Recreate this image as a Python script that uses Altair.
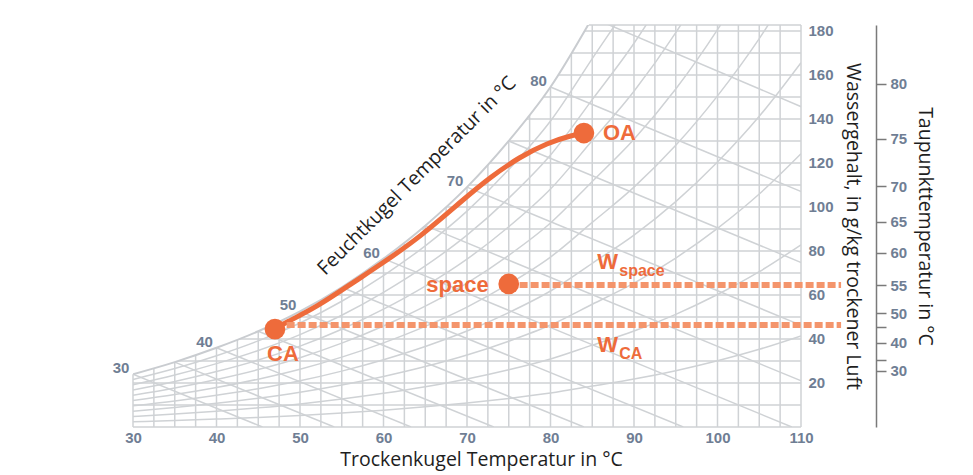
import altair as alt
import pandas as pd

# ---------------- data ----------------
# saturation humidity (grains per lb dry air) along the saturation curve
sat_T = [30, 35, 40, 45, 50, 55, 60, 65, 70, 75, 80, 85, 90, 95, 100, 105, 110]
sat_W = [24, 29.5, 36, 43.5, 52.5, 63.5, 76.5, 91.5, 109, 130, 154.5, 186, 218, 256, 301, 353, 414]

# relative humidity curves
rh_levels = [0.1, 0.2, 0.3, 0.4, 0.5, 0.6, 0.7, 0.8, 0.9]

# wet-bulb lines: start on saturation at wb_T, end at W = 0 at wb_end_T
wb_T = [30, 35, 40, 45, 50, 55, 60, 65, 70, 75, 80, 85]
wb_end_T = [45.5, 54.1, 63.3, 73.2, 84.0, 95.9, 108.9, 123.4, 139.5, 157.4, 177.6, 200.1]
wb_label_T = [30, 40, 50, 60, 70, 80]

# chart grid (tick positions)
grid_T = [32.5 + 2.5 * i for i in range(32)]          # interior verticals up to 110
grid_W = [0, 10, 20, 30, 40, 50, 60, 70, 80, 90, 100, 110, 120, 130, 140, 150, 160, 170, 180]
W_TOP = 182.7
T_TOP_START = 84.6      # where the saturation curve meets the top edge
W_LEFT_TOP = 24         # where the saturation curve meets the left edge
x_ticks = [30, 40, 50, 60, 70, 80, 90, 100, 110]
y_ticks = [20, 40, 60, 80, 100, 120, 140, 160, 180]

# dew point scale (right): label and humidity where it sits
dew_labels = ["80", "75", "70", "65", "60", "55", "50", "", "40", "", "30"]
dew_W = [155.9, 130.9, 109.5, 93.2, 79.1, 64.5, 51.8, 45.5, 38.2, 30.5, 25.5]

# process line CA -> OA
proc_T = [47.0, 48.2, 52.0, 56.3, 59.9, 64.4, 69.5, 72.8, 76.3, 79.6, 82.7, 84.0]
proc_W = [44.5, 47.3, 54.5, 65.5, 74.5, 86.4, 103.2, 113.6, 122.7, 129.1, 132.7, 133.6]

# state points
pt_names = ["CA", "space", "OA"]
pt_T = [47.0, 75.0, 84.0]
pt_W = [44.5, 65.0, 133.6]

# humidity-ratio dashed lines
dash_names = ["W_CA", "W_space"]
dash_W = [46.4, 64.5]
dash_start_T = [48.4, 76.3]
dash_end_T = [114.8, 114.8]

# annotation anchors
wlab_T = [85.6, 85.6]
wlab_W = [37.3, 75.0]
wlab_sub = ["CA", "space"]
feucht_T, feucht_W = 64.0, 114.1

# ---------------- styles ----------------
GRID = "#cfd2d5"
ORANGE = "#ee6b3b"
DASH = "#f4956c"
LABEL = "#6f7e94"
TXT = "#1e1e1e"
NUMFONT = "Liberation Sans"
TFONT = "Open Sans"

xs = alt.Scale(domain=[30, 110], nice=False, zero=False)
ys = alt.Scale(domain=[0, W_TOP], nice=False, zero=False)

xaxis = alt.Axis(values=x_ticks, grid=False, ticks=False, domain=False,
                 labelFont=NUMFONT, labelFontWeight="bold", labelFontSize=15,
                 labelColor=LABEL, labelPadding=3, labelFlush=False, labelOverlap=False,
                 title="Trockenkugel Temperatur in °C", titleFont=TFONT,
                 titleFontSize=19.5, titleFontWeight="normal", titleColor=TXT,
                 titlePadding=5, titleX=348)
yaxis = alt.Axis(orient="right", values=y_ticks, grid=False, ticks=False, domain=False,
                 labelFont=NUMFONT, labelFontWeight="bold", labelFontSize=15,
                 labelColor=LABEL, labelPadding=7, labelFlush=False, labelOverlap=False,
                 title="Wassergehalt, in g/kg trockener Luft", titleFont=TFONT,
                 titleFontSize=19.5, titleFontWeight="normal", titleColor=TXT,
                 titlePadding=9, titleAngle=90)


def X(field="T"):
    return alt.X(f"{field}:Q", scale=xs, axis=xaxis)


def Y(field="W"):
    return alt.Y(f"{field}:Q", scale=ys, axis=yaxis)


# ---------------- tables ----------------
sat_df = pd.DataFrame({"T": sat_T, "W": sat_W})
sat_in = sat_df[sat_df["T"] <= 85].copy()
sat_in["top"] = W_TOP

rh_rows = []
for rh in rh_levels:
    for t, w in zip(sat_T, sat_W):
        rh_rows.append({"rh": rh, "T": t, "W": rh * w})
rh_df = pd.DataFrame(rh_rows)

sat_lookup = dict(zip(sat_T, sat_W))
wb_rows = []
for t, te in zip(wb_T, wb_end_T):
    wb_rows.append({"wb": t, "T": t, "W": sat_lookup[t]})
    wb_rows.append({"wb": t, "T": te, "W": 0})
wb_df = pd.DataFrame(wb_rows)

wbl_df = pd.DataFrame({"T": wb_label_T, "W": [sat_lookup[t] for t in wb_label_T],
                       "lab": [str(t) for t in wb_label_T]})

vgrid_df = pd.DataFrame({"T": grid_T, "lo": 0.0, "hi": W_TOP})
hgrid_df = pd.DataFrame({"W": grid_W, "a": 30.0, "b": 110.0})
# boundary segments of the chart outline
edge_df = pd.DataFrame({
    "T": [30.0, T_TOP_START], "T2": [30.0, 110.0],
    "W": [0.0, W_TOP], "W2": [W_LEFT_TOP, W_TOP],
})

proc_df = pd.DataFrame({"T": proc_T, "W": proc_W})
pts_df = pd.DataFrame({"name": pt_names, "T": pt_T, "W": pt_W})

dash_rows = []
for n, w, a, b in zip(dash_names, dash_W, dash_start_T, dash_end_T):
    dash_rows.append({"name": n, "T": a, "W": w})
    dash_rows.append({"name": n, "T": b, "W": w})
dash_df = pd.DataFrame(dash_rows)

wlab_df = pd.DataFrame({"T": wlab_T, "W": wlab_W, "sub": wlab_sub})
feucht_df = pd.DataFrame({"T": [feucht_T], "W": [feucht_W], "lab": ["Feuchtkugel Temperatur in °C"]})
dew_df = pd.DataFrame({"W": dew_W, "lab": dew_labels})

# ---------------- layers ----------------
vgrid = alt.Chart(vgrid_df).mark_rule(color=GRID, strokeWidth=1.5).encode(
    x=X(), y=Y("lo"), y2="hi:Q")
hgrid = alt.Chart(hgrid_df).mark_rule(color=GRID, strokeWidth=1.5).encode(
    y=Y(), x=X("a"), x2="b:Q")
rh_lines = alt.Chart(rh_df).mark_line(color=GRID, strokeWidth=1.5, clip=True,
                                      interpolate="monotone").encode(
    x=X(), y=Y(), detail="rh:N")
wb_lines = alt.Chart(wb_df).mark_line(color=GRID, strokeWidth=1.5, clip=True).encode(
    x=X(), y=Y(), detail="wb:N")
mask = alt.Chart(sat_in).mark_area(color="#ffffff", fill="#ffffff", opacity=1, clip=True,
                                   orient="vertical", interpolate="monotone").encode(
    x=X(), y=Y(), y2="top:Q")
sat_line = alt.Chart(sat_in).mark_line(color="#c9ccd0", strokeWidth=2, clip=True,
                                       interpolate="monotone").encode(x=X(), y=Y())
edges = alt.Chart(edge_df).mark_rule(color=GRID, strokeWidth=1.5).encode(
    x=X(), x2="T2:Q", y=Y(), y2="W2:Q")
wb_text = alt.Chart(wbl_df).mark_text(font=NUMFONT, fontWeight="bold", fontSize=15,
                                      color=LABEL, dx=-12, dy=-6).encode(
    x=X(), y=Y(), text="lab:N")
feucht = alt.Chart(feucht_df).mark_text(font=TFONT, fontSize=19.5, color=TXT, angle=315,
                                        align="center", baseline="middle").encode(
    x=X(), y=Y(), text="lab:N")
proc = alt.Chart(proc_df).mark_line(color=ORANGE, strokeWidth=5, strokeCap="round",
                                    interpolate="basis").encode(x=X(), y=Y())
dashes = alt.Chart(dash_df).mark_line(color=DASH, strokeWidth=6, strokeDash=[8, 3],
                                      strokeCap="butt").encode(
    x=X(), y=Y(), detail="name:N")
pts = alt.Chart(pts_df).mark_circle(size=430, color=ORANGE, opacity=1).encode(x=X(), y=Y())

lab_style = dict(font=NUMFONT, fontWeight="bold", fontSize=22, color=ORANGE, baseline="middle")
oa_lab = alt.Chart(pts_df[pts_df["name"] == "OA"]).mark_text(align="left", dx=19, **lab_style).encode(
    x=X(), y=Y(), text="name:N")
ca_lab = alt.Chart(pts_df[pts_df["name"] == "CA"]).mark_text(align="center", dx=8, dy=25, **lab_style).encode(
    x=X(), y=Y(), text="name:N")
sp_lab = alt.Chart(pts_df[pts_df["name"] == "space"]).mark_text(align="right", dx=-20, dy=1, **lab_style).encode(
    x=X(), y=Y(), text="name:N")
w_big = alt.Chart(wlab_df).mark_text(align="left", text="W", **lab_style).encode(x=X(), y=Y())
w_sub = alt.Chart(wlab_df).mark_text(align="left", dx=22, dy=9, font=NUMFONT, fontWeight="bold",
                                     fontSize=16, color=ORANGE, baseline="middle").encode(
    x=X(), y=Y(), text="sub:N")

main = alt.layer(vgrid, hgrid, rh_lines, wb_lines, mask, sat_line, edges, wb_text, feucht,
                 proc, dashes, pts, oa_lab, ca_lab, sp_lab, w_big, w_sub)

label_expr = " : ".join(f"datum.value == {w} ? '{l}'" for w, l in zip(dew_W, dew_labels)) + " : ''"
dew_axis = alt.Axis(orient="right", offset=75, values=dew_W, labelExpr=label_expr,
                    grid=False, ticks=True, tickSize=10, tickColor="#7a7a7a", tickWidth=1.5,
                    domain=True, domainColor="#7a7a7a", domainWidth=1.5,
                    labelFont=NUMFONT, labelFontWeight="bold", labelFontSize=15,
                    labelColor=LABEL, labelPadding=4, labelFlush=False, labelOverlap=False,
                    title="Taupunkttemperatur in °C", titleFont=TFONT, titleFontSize=19.5,
                    titleFontWeight="normal", titleColor=TXT, titlePadding=8, titleAngle=90)
dew = alt.Chart(dew_df).mark_point(opacity=0).encode(
    y=alt.Y("W:Q", scale=alt.Scale(domain=[0, W_TOP], nice=False, zero=False), axis=dew_axis))

chart = alt.layer(main, dew).resolve_scale(y="independent").properties(
    width=668, height=402,
    padding={"left": 125, "top": 17, "right": 164, "bottom": 48},
    autosize=alt.AutoSizeParams(type="none"),
    background="white",
).configure_view(stroke=None)

chart.save("out.html", embed_options={"renderer": "svg", "actions": False})
